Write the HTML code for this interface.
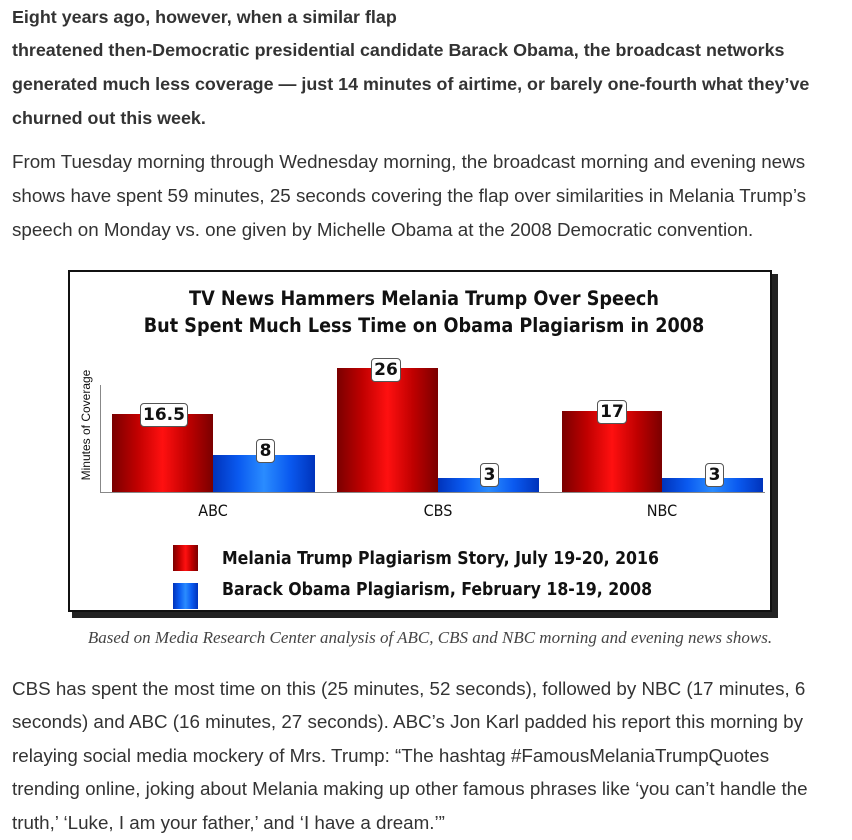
<!DOCTYPE html>
<html><head><meta charset="utf-8"><style>
body{margin:0;background:#fff;width:852px;height:840px;position:relative;overflow:hidden;font-family:"Liberation Sans",Arial,sans-serif;color:#333;}
.l{position:absolute;left:12px;font-size:18.8px;white-space:nowrap;line-height:20px;}
.b{font-weight:bold;font-size:17.9px;}
.a{position:absolute;}
.red{background:linear-gradient(90deg,#7a0000,#c00000 25%,#ff1010 50%,#c00000 75%,#7a0000);}
.blue{background:linear-gradient(90deg,#0033bb,#0a5af0 25%,#2a8cff 50%,#0a5af0 75%,#0033bb);}
.lab{position:absolute;background:#fff;border:1px solid #555;border-radius:4px;font-weight:bold;font-size:17px;text-align:center;line-height:22px;color:#111;font-family:"DejaVu Sans",sans-serif;}
.ct{position:absolute;font-family:"DejaVu Sans Condensed","DejaVu Sans",sans-serif;color:#111;white-space:nowrap;}
</style></head><body>
<div class="l b" style="top:7px">Eight years ago, however, when a similar flap</div>
<div class="l b" style="top:40px">threatened then-Democratic presidential candidate Barack Obama, the broadcast networks</div>
<div class="l b" style="top:74px">generated much less coverage — just 14 minutes of airtime, or barely one-fourth what they’ve</div>
<div class="l b" style="top:108px">churned out this week.</div>
<div class="l" style="top:152px">From Tuesday morning through Wednesday morning, the broadcast morning and evening news</div>
<div class="l" style="top:186px">shows have spent 59 minutes, 25 seconds covering the flap over similarities in Melania Trump’s</div>
<div class="l" style="top:220px">speech on Monday vs. one given by Michelle Obama at the 2008 Democratic convention.</div>

<div class="a" style="left:72px;top:274px;width:706px;height:344px;background:#222;"></div>
<div class="a" style="left:68px;top:270px;width:704px;height:342px;border:2px solid #111;background:#fff;box-sizing:border-box;"></div>
<div class="ct" style="left:0;width:848px;text-align:center;top:285px;font-size:19.6px;font-weight:bold;line-height:27px;">TV News Hammers Melania Trump Over Speech<br>But Spent Much Less Time on Obama Plagiarism in 2008</div>
<div class="a" style="left:100px;top:385px;width:1px;height:108px;background:#888"></div>
<div class="a" style="left:100px;top:492px;width:665px;height:1px;background:#888"></div>
<div class="ct" style="left:86px;top:425px;font-size:12px;transform:translate(-50%,-50%) rotate(-90deg);font-family:'Liberation Sans',sans-serif;">Minutes of Coverage</div>
<div class="a red" style="left:112px;top:414px;width:101px;height:78px"></div>
<div class="a blue" style="left:213px;top:455px;width:102px;height:37px"></div>
<div class="a red" style="left:337px;top:368px;width:101px;height:124px"></div>
<div class="a blue" style="left:438px;top:478px;width:101px;height:14px"></div>
<div class="a red" style="left:562px;top:411px;width:100px;height:81px"></div>
<div class="a blue" style="left:662px;top:478px;width:101px;height:14px"></div>
<div class="lab" style="left:140px;top:403px;width:46px;">16.5</div>
<div class="lab" style="left:256px;top:439px;width:17px;">8</div>
<div class="lab" style="left:371px;top:358px;width:28px;">26</div>
<div class="lab" style="left:480px;top:463px;width:17px;">3</div>
<div class="lab" style="left:597px;top:400px;width:28px;">17</div>
<div class="lab" style="left:705px;top:463px;width:17px;">3</div>
<div class="ct" style="left:193px;top:501px;width:40px;text-align:center;font-size:16px;">ABC</div>
<div class="ct" style="left:418px;top:501px;width:40px;text-align:center;font-size:16px;">CBS</div>
<div class="ct" style="left:642px;top:501px;width:40px;text-align:center;font-size:16px;">NBC</div>
<div class="a red" style="left:173px;top:545px;width:25px;height:26px"></div>
<div class="a blue" style="left:173px;top:583px;width:25px;height:26px"></div>
<div class="ct" style="left:222px;top:549px;font-size:17.5px;font-weight:bold;">Melania Trump Plagiarism Story, July 19-20, 2016</div>
<div class="ct" style="left:222px;top:580px;font-size:17.5px;font-weight:bold;">Barack Obama Plagiarism, February 18-19, 2008</div>
<div class="a" style="left:0;width:860px;text-align:center;top:628px;font-family:'Liberation Serif',serif;font-style:italic;font-size:17px;color:#444;white-space:nowrap;">Based on Media Research Center analysis of ABC, CBS and NBC morning and evening news shows.</div>

<div class="l" style="top:679px">CBS has spent the most time on this (25 minutes, 52 seconds), followed by NBC (17 minutes, 6</div>
<div class="l" style="top:712px">seconds) and ABC (16 minutes, 27 seconds). ABC’s Jon Karl padded his report this morning by</div>
<div class="l" style="top:746px">relaying social media mockery of Mrs. Trump: “The hashtag #FamousMelaniaTrumpQuotes</div>
<div class="l" style="top:779px">trending online, joking about Melania making up other famous phrases like ‘you can’t handle the</div>
<div class="l" style="top:813px">truth,’ ‘Luke, I am your father,’ and ‘I have a dream.’”</div>
</body></html>
